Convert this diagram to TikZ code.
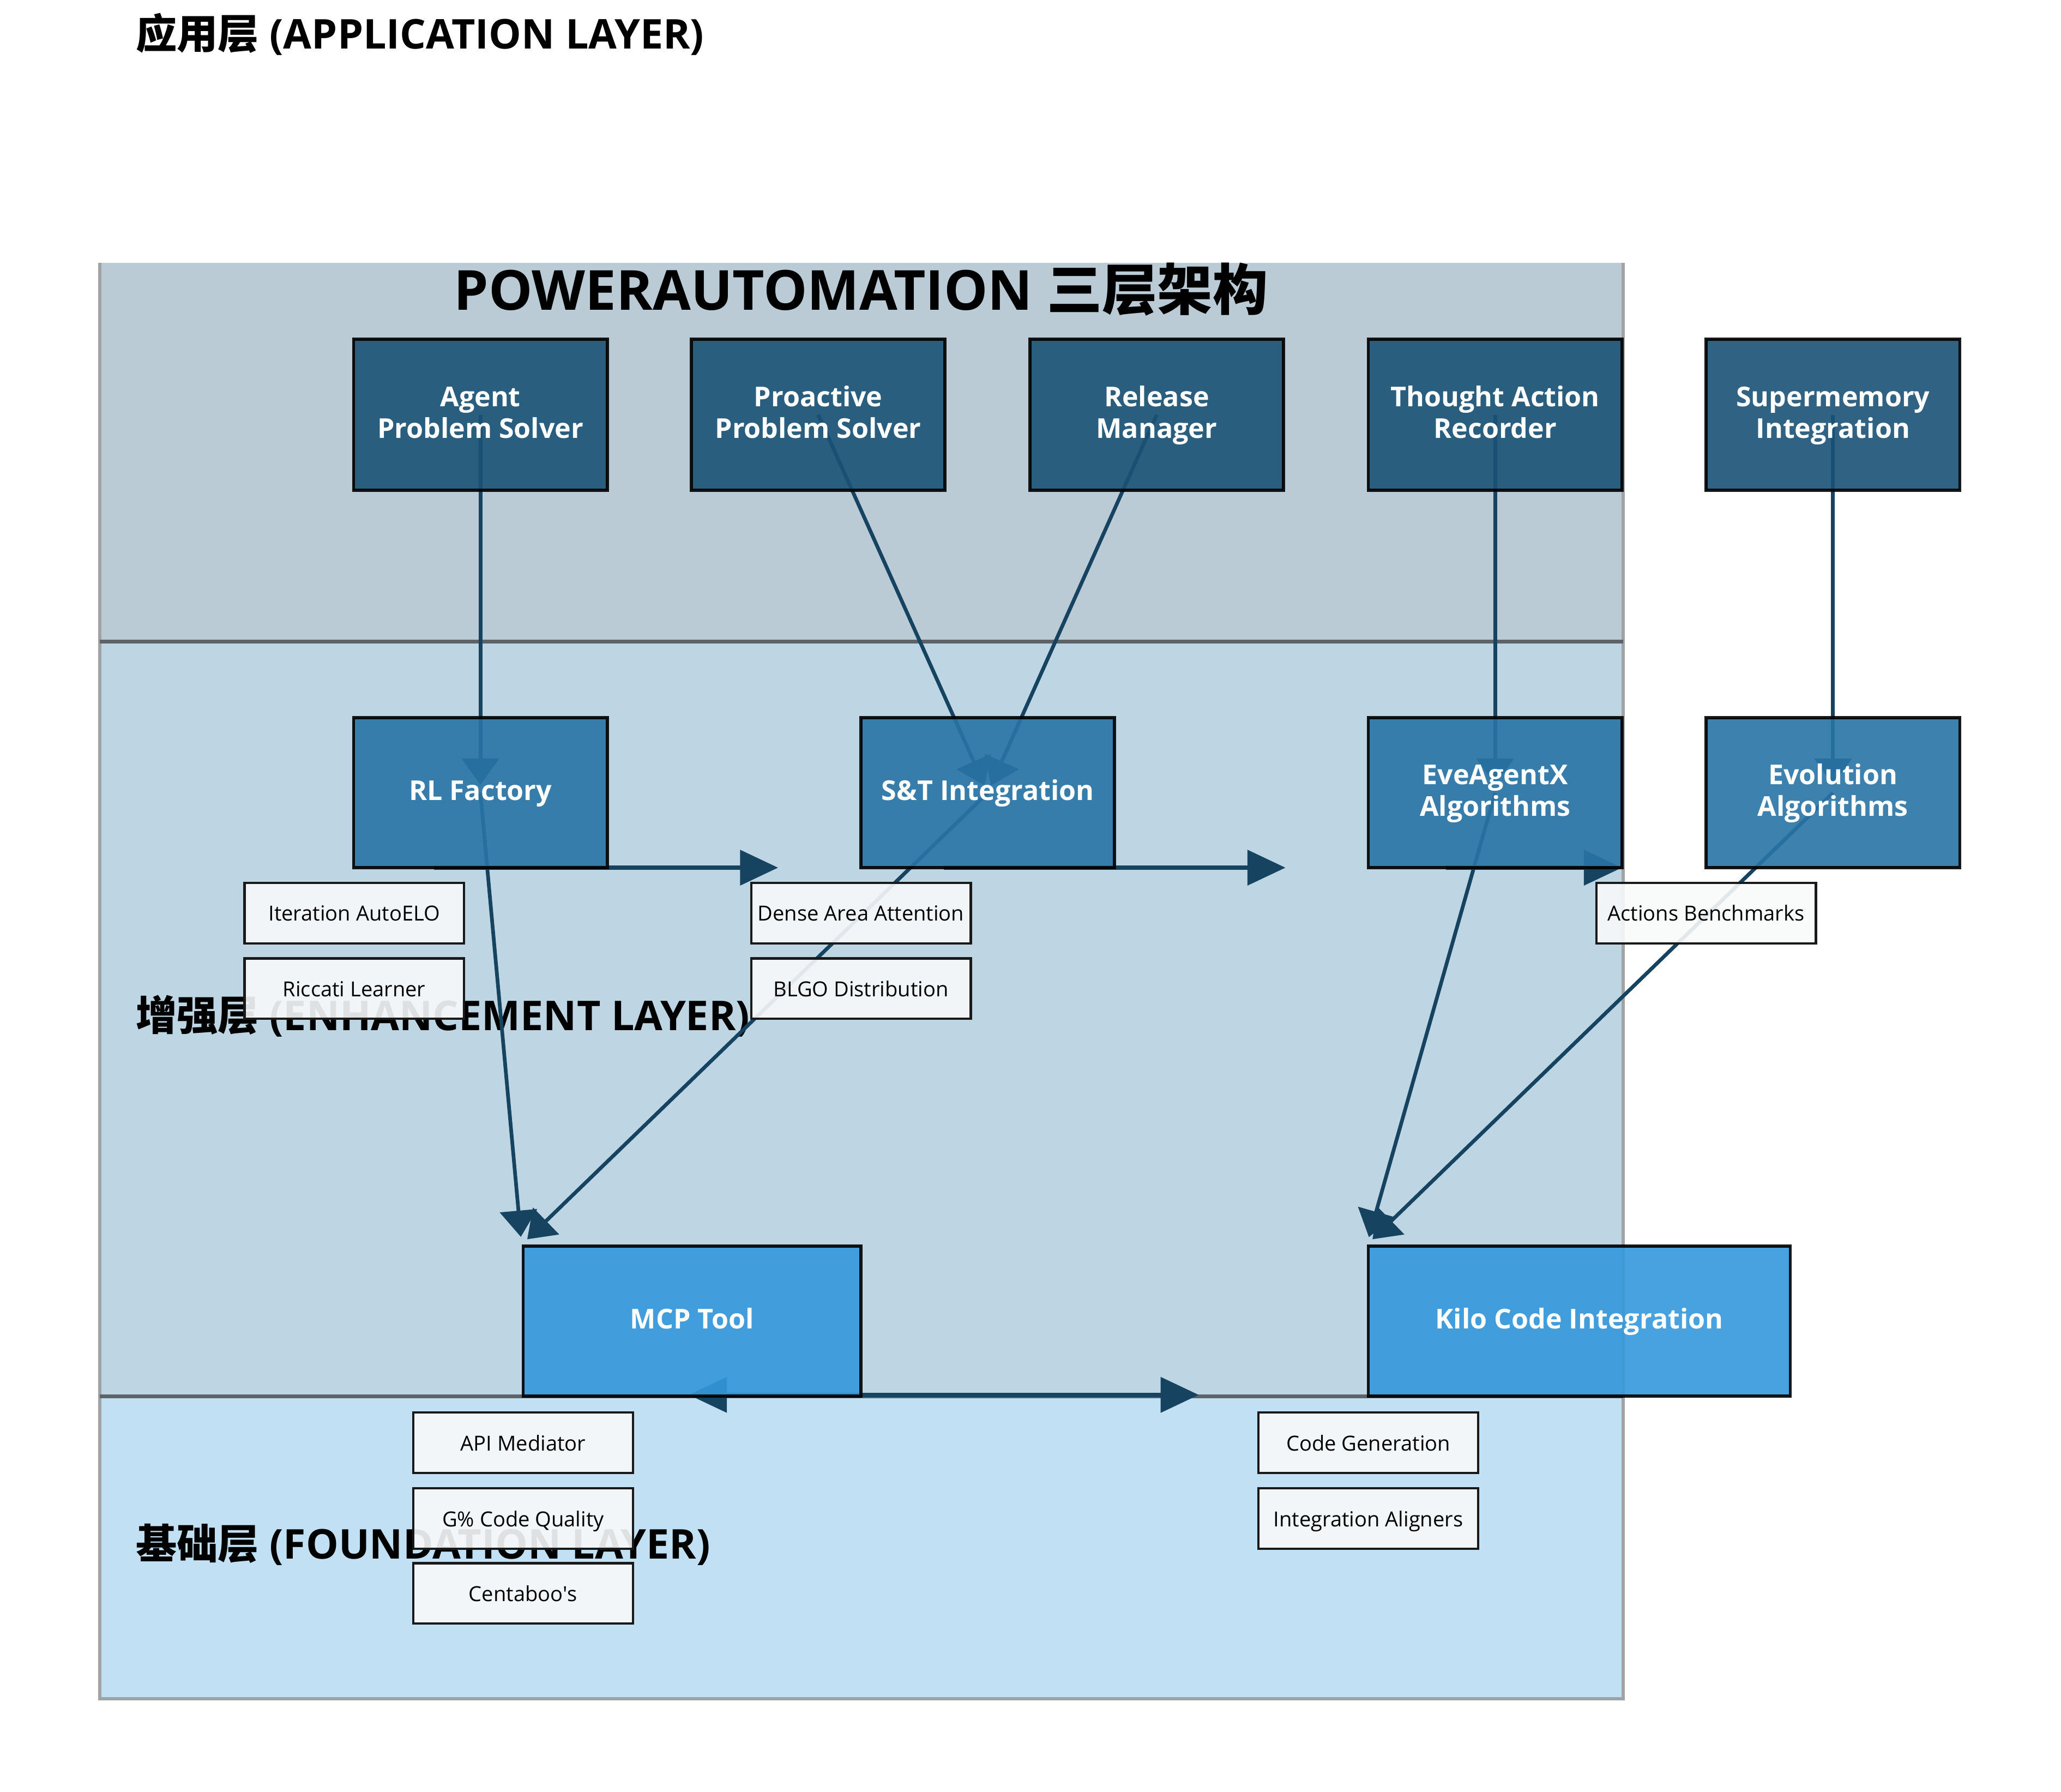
\documentclass[tikz,border=0pt]{standalone}
\usepackage{fontspec}
\setmainfont{Open Sans}
\newfontfamily\cjk{Noto Sans CJK SC}
\usetikzlibrary{arrows.meta}
\definecolor{appc}{HTML}{1A5276}
\definecolor{enhc}{HTML}{2874A6}
\definecolor{fndc}{HTML}{3498DB}
\definecolor{arrc}{HTML}{154360}
\definecolor{subc}{HTML}{F8F9FA}
\definecolor{sepc}{HTML}{5E6368}
\definecolor{edgec}{HTML}{A0A3A6}
\pgfdeclarelayer{bglayer}
\pgfdeclarelayer{arrlayer}
\pgfsetlayers{bglayer,arrlayer,main}
\newcommand{\sline}[1]{#1\rule[-3.1pt]{0pt}{12pt}}
\newcommand{\subline}[1]{#1\rule[-2.9pt]{0pt}{11.9pt}}
\tikzset{
 box/.style={draw=black, line width=1.2pt, draw opacity=0.9, fill opacity=0.9, text opacity=1, text=white, align=center, inner sep=0pt, font=\bfseries\fontsize{10.4}{12}\selectfont},
 appbox/.style={box, fill=appc, minimum width=96.5pt, minimum height=57.5pt},
 enhbox/.style={box, fill=enhc, minimum width=96.5pt, minimum height=57pt},
 fndbox/.style={box, fill=fndc, minimum height=57pt},
 subbox/.style={draw=black!90, line width=0.9pt, fill=subc, fill opacity=0.9, text opacity=1, minimum width=83.5pt, minimum height=23pt, inner sep=0pt, font=\fontsize{7.9}{9}\selectfont},
 layerlabel/.style={anchor=west, inner sep=0pt, font=\bfseries\fontsize{15.6}{18}\selectfont},
 link/.style={draw=arrc, line width=1.4pt, -{Triangle[length=10pt,width=14pt]}, shorten >=3pt},
 flow/.style={draw=arrc, line width=1.7pt, -{Triangle[length=14.5pt,width=13.2pt]}},
 dflow/.style={draw=arrc, line width=1.7pt, {Triangle[length=14.5pt,width=13.2pt]}-{Triangle[length=14.5pt,width=13.2pt]}},
}
\begin{document}
\begin{tikzpicture}[x=0.5pt,y=-0.5pt]
\useasboundingbox (0,0) rectangle (1568,1363);

% layer backgrounds and labels
\begin{pgfonlayer}{bglayer}
 \fill[appc, fill opacity=0.3] (76,200) rectangle (1235,488);
 \fill[enhc, fill opacity=0.3] (76,488) rectangle (1235,1062);
 \fill[fndc, fill opacity=0.3] (76,1062) rectangle (1235,1292);
 \draw[edgec, line width=1.3pt] (76,200) -- (76,1292) -- (1235,1292) -- (1235,200);
 \draw[sepc, line width=1.4pt] (76,488) -- (1235,488);
 \draw[sepc, line width=1.4pt] (76,1062) -- (1235,1062);
 \node[layerlabel] (lapp) at (103,26) {{\cjk\bfseries 应用层} (APPLICATION LAYER)};
 \node[layerlabel] (lenh) at (103,773) {{\cjk\bfseries 增强层} (ENHANCEMENT LAYER)};
 \node[layerlabel] (lfnd) at (103,1175) {{\cjk\bfseries 基础层} (FOUNDATION LAYER)};
\end{pgfonlayer}

\node[font=\bfseries\fontsize{21}{24}\selectfont, inner sep=0pt] (title) at (655,220) {POWERAUTOMATION {\cjk\bfseries 三层架构}};

% application layer
\node[appbox] (aps) at (365.5,315.5) {\sline{Agent}\\\sline{Problem Solver}};
\node[appbox] (pps) at (622.5,315.5) {\sline{Proactive}\\\sline{Problem Solver}};
\node[appbox] (rm)  at (880,315.5)   {\sline{Release}\\\sline{Manager}};
\node[appbox] (tar) at (1137.5,315.5) {\sline{Thought Action}\\\sline{Recorder}};
\node[appbox] (smi) at (1394.5,315.5) {\sline{Supermemory}\\\sline{Integration}};

% enhancement layer
\node[enhbox] (rl)  at (365.5,603)  {\sline{RL Factory}};
\node[enhbox] (st)  at (751.5,603)  {\sline{S\&T Integration}};
\node[enhbox] (eve) at (1137.5,603) {\sline{EveAgentX}\\\sline{Algorithms}};
\node[enhbox] (evo) at (1394.5,603) {\sline{Evolution}\\\sline{Algorithms}};

% foundation layer
\node[fndbox, minimum width=128.5pt] (mcp)  at (526.5,1005) {\sline{MCP Tool}};
\node[fndbox, minimum width=160.5pt] (kilo) at (1201.5,1005) {\sline{Kilo Code Integration}};

% sub components
\node[subbox] (s1) at (269.5,694.5) {\subline{Iteration AutoELO}};
\node[subbox] (s2) at (269.5,752)   {\subline{Riccati Learner}};
\node[subbox] (s3) at (655,694.5)   {\subline{Dense Area Attention}};
\node[subbox] (s4) at (655,752)     {\subline{BLGO Distribution}};
\node[subbox] (s5) at (1298,694.5)  {\subline{Actions Benchmarks}};
\node[subbox] (s6) at (398,1097.5)  {\subline{API Mediator}};
\node[subbox] (s7) at (398,1155)    {\subline{G\% Code Quality}};
\node[subbox] (s8) at (398,1212)    {\subline{Centaboo\textquotesingle s}};
\node[subbox] (s9) at (1041,1097.5) {\subline{Code Generation}};
\node[subbox] (s10) at (1041,1155)  {\subline{Integration Aligners}};

% flow coordinates
\coordinate (h1s) at (330,660);  \coordinate (h1e) at (592,660);
\coordinate (h2s) at (718,660);  \coordinate (h2e) at (978,660);
\coordinate (h3s) at (1100,660); \coordinate (h3e) at (1234,660);
\coordinate (h4s) at (524,1061); \coordinate (h4e) at (912,1061);

\begin{pgfonlayer}{arrlayer}
 \draw[link] (aps.center) -- (rl.center);
 \draw[link] (pps.center) -- (st.center);
 \draw[link] (rm.center)  -- (st.center);
 \draw[link] (tar.center) -- (eve.center);
 \draw[link] (smi.center) -- (evo.center);
 \draw[link] (rl.center)  -- (mcp.north west);
 \draw[link] (st.center)  -- (mcp.north west);
 \draw[link] (eve.center) -- (kilo.north west);
 \draw[link] (evo.center) -- (kilo.north west);
 \draw[flow] (h1s) -- (h1e);
 \draw[flow] (h2s) -- (h2e);
 \draw[flow] (h3s) -- (h3e);
 \draw[dflow] (h4s) -- (h4e);
\end{pgfonlayer}
\end{tikzpicture}
\end{document}
